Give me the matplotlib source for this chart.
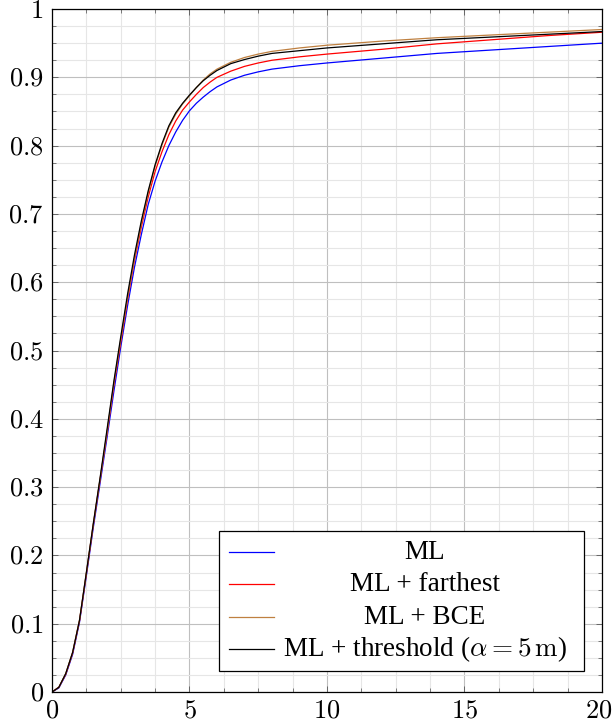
import matplotlib

matplotlib.use("Agg")
import matplotlib.pyplot as plt  # noqa: E402
from matplotlib.patches import Rectangle  # noqa: E402
from matplotlib.transforms import ScaledTranslation  # noqa: E402

plt.rcParams["mathtext.fontset"] = "cm"
plt.rcParams["font.family"] = ["Liberation Serif", "DejaVu Serif"]

x = [0, 0.25, 0.5, 0.75, 1.0, 1.25, 1.5, 1.75, 2.0, 2.25, 2.5, 2.75, 3.0,
     3.25, 3.5, 3.75, 4.0, 4.25, 4.5, 4.75, 5.0, 5.25, 5.5, 5.75, 6.0, 6.5,
     7.0, 7.5, 8.0, 9, 10, 12, 14, 16, 18, 20]

ml = [0, 0.006, 0.025, 0.055, 0.102, 0.170, 0.240, 0.306, 0.372, 0.440,
      0.505, 0.566, 0.622, 0.670, 0.714, 0.748, 0.776, 0.800, 0.820, 0.837,
      0.851, 0.862, 0.871, 0.879, 0.886, 0.896, 0.903, 0.908, 0.912, 0.917,
      0.921, 0.928, 0.935, 0.940, 0.945, 0.950]

ml_far = [0, 0.007, 0.026, 0.057, 0.104, 0.173, 0.244, 0.311, 0.378, 0.449,
          0.512, 0.575, 0.632, 0.681, 0.725, 0.762, 0.791, 0.816, 0.836,
          0.852, 0.864, 0.875, 0.885, 0.893, 0.900, 0.909, 0.916, 0.921,
          0.925, 0.930, 0.934, 0.941, 0.949, 0.955, 0.961, 0.966]

ml_bce = [0, 0.007, 0.027, 0.058, 0.105, 0.174, 0.245, 0.312, 0.380, 0.452,
          0.516, 0.578, 0.635, 0.686, 0.731, 0.770, 0.801, 0.827, 0.846,
          0.861, 0.873, 0.885, 0.896, 0.905, 0.912, 0.922, 0.929, 0.934,
          0.938, 0.943, 0.947, 0.953, 0.958, 0.962, 0.966, 0.970]

ml_thr = [0, 0.007, 0.027, 0.058, 0.105, 0.175, 0.246, 0.314, 0.384, 0.455,
          0.520, 0.583, 0.640, 0.690, 0.734, 0.772, 0.803, 0.829, 0.848,
          0.862, 0.874, 0.885, 0.895, 0.903, 0.910, 0.920, 0.926, 0.931,
          0.935, 0.939, 0.943, 0.949, 0.955, 0.959, 0.963, 0.967]

series = [
    (ml, "blue", "ML"),
    (ml_far, "red", "ML + farthest"),
    (ml_bce, (0.75, 0.5, 0.25), "ML + BCE"),
    (ml_thr, "black", r"ML + threshold ($\alpha = 5\,\mathrm{m}$)"),
]

xticks = [0, 5, 10, 15, 20]
yticks = [0, 0.1, 0.2, 0.3, 0.4, 0.5, 0.6, 0.7, 0.8, 0.9, 1.0]
ytick_labels = ["0", "0.1", "0.2", "0.3", "0.4", "0.5", "0.6", "0.7", "0.8",
                "0.9", "1"]

fig = plt.figure(figsize=(6.13, 7.27), dpi=100)
ax = fig.add_axes([0.0848, 0.0481, 0.982 - 0.0848, 0.9876 - 0.0481])

for ys, color, _ in series:
    ax.plot(x, ys, color=color, lw=0.9, zorder=3)

ax.set_xlim(0, 20)
ax.set_ylim(0, 1)
ax.set_xticks(xticks)
ax.set_xticklabels([f"${t}$" for t in xticks])
ax.set_yticks(yticks)
ax.set_yticklabels([f"${t}$" for t in ytick_labels])
ax.set_xticks([i * 1.25 for i in range(17)], minor=True)
ax.set_yticks([i * 0.025 for i in range(41)], minor=True)

ax.grid(which="major", color="0.75", lw=0.8, zorder=0)
ax.grid(which="minor", color="0.9", lw=0.8, zorder=0)
ax.set_axisbelow(True)

ax.tick_params(which="both", direction="in", top=True, right=True,
               color="0.4", labelsize=19, pad=6)
ax.tick_params(which="major", length=4.5, width=0.7)
ax.tick_params(which="minor", length=3, width=0.6)
for s in ax.spines.values():
    s.set_linewidth(0.9)
    s.set_color("black")
    s.set_zorder(4)

# keep the last x label inside the canvas
last = ax.get_xticklabels()[-1]
last.set_transform(last.get_transform()
                   + ScaledTranslation(-3 / 100, 0, fig.dpi_scale_trans))

# legend drawn by hand so the labels are centred like pgfplots
tr = ax.transAxes
ax.add_patch(Rectangle((0.3036, 0.0307), 0.967 - 0.3036, 0.2357 - 0.0307,
                       transform=tr, facecolor="white", edgecolor="black",
                       lw=0.9, zorder=5))
row_y = [0.2050, 0.1581, 0.1098, 0.0630]
for (ys, color, label), yy in zip(series, row_y):
    ax.plot([0.3218, 0.4036], [yy, yy], transform=tr, color=color, lw=0.9,
            zorder=6)
    ax.text(0.6782, yy, label, transform=tr, ha="center", va="center",
            fontsize=19.5, zorder=6)

fig.savefig("out.png", dpi=100)
